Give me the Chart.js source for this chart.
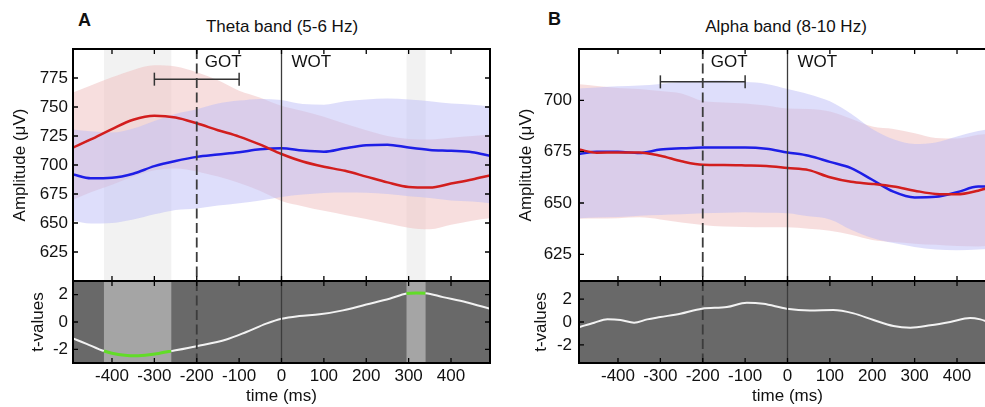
<!DOCTYPE html>
<html lang="en">
<head>
<meta charset="UTF-8">
<title>Theta and alpha band amplitude</title>
<script src="https://cdn.jsdelivr.net/npm/chart.js"></script>
<style>
  body { margin: 0; background: #fff; width: 985px; height: 407px; overflow: hidden; position: relative;
         font-family: "Liberation Sans", Arial, sans-serif; color: #111; }
  canvas { position: absolute; }
  .panel { position: absolute; font-weight: bold; font-size: 18px; }
  .band { position: absolute; font-size: 17px; text-align: center; width: 300px; }
</style>
</head>
<body>
<div class="panel" style="left:78px; top:10px">A</div>
<div class="band" style="left:132px; top:17px">Theta band (5-6 Hz)</div>
<div class="panel" style="left:548px; top:9px">B</div>
<div class="band" style="left:636px; top:17px">Alpha band (8-10 Hz)</div>

<canvas id="thetaAmp" width="500" height="311" style="left:0; top:0"></canvas>
<canvas id="thetaT" width="500" height="156" style="left:0; top:251px"></canvas>
<canvas id="alphaAmp" width="515" height="311" style="left:500px; top:0"></canvas>
<canvas id="alphaT" width="515" height="156" style="left:500px; top:251px"></canvas>

<script>
// sample times (ms) of the amplitude traces
const times = [-492, -450, -400, -350, -300, -250, -200, -150, -100, -50, 0, 50, 100, 150, 200, 250, 300, 350, 400, 450, 492];

// theta band (5-6 Hz), amplitude in uV
const thetaRedMean   = [715, 722, 731, 739, 742.5, 741, 736, 730, 724.5, 717.5, 709.5, 703, 698.5, 695, 690, 685, 681, 680.5, 684, 687.5, 691];
const thetaRedUpper  = [762.5, 768.5, 775.6, 782, 786, 785, 780, 773, 764, 758, 751, 746.5, 741.5, 735.5, 730, 725, 722.5, 722, 723.5, 725, 726.3];
const thetaRedLower  = [670, 676.5, 683, 690, 695.5, 697, 694.5, 690, 684.5, 677.5, 669, 664.5, 660.5, 657, 653.5, 649.5, 646, 644.6, 648.5, 652, 654];
const thetaBlueMean  = [691.8, 688.5, 689, 692.5, 699, 703.5, 707, 709, 711, 713.5, 714.5, 712.5, 711.5, 714.5, 717, 717.5, 715, 713, 712.2, 711, 708];
const thetaBlueUpper = [730.7, 729, 728, 731.5, 738, 744, 748, 753, 755.5, 757, 756, 752.5, 752, 755, 756.5, 757.3, 756.5, 755, 753, 752, 750.4];
const thetaBlueLower = [652, 649.6, 650, 653, 657.5, 661.3, 662.6, 665, 667, 669.5, 672.5, 674.5, 675.8, 676.2, 676, 675, 673, 671.5, 669.5, 668.5, 667];

// alpha band (8-10 Hz)
const alphaRedMean   = [676, 674.5, 674.6, 674.6, 673, 670.3, 668.6, 668.5, 668.3, 668, 667, 666, 662.5, 660.3, 659.3, 658, 656, 654.4, 654.2, 656, 658.5];
const alphaRedUpper  = [707.8, 707, 706, 705.5, 704.5, 703.3, 699.7, 699, 698.5, 697.5, 696, 695.8, 694.5, 691, 687.2, 686, 684, 681.7, 681.4, 683.2, 684];
const alphaRedLower  = [642.3, 642.4, 642.6, 643, 642, 640.5, 639.3, 638.5, 638.3, 638.2, 638.2, 637.5, 636.5, 634.5, 632, 631, 630.2, 629.6, 629, 628.8, 629.5];
const alphaBlueMean  = [673.8, 675, 675, 674.3, 676, 676.6, 677, 677, 677, 676.4, 674.6, 673, 670, 667, 661.3, 655.5, 652.7, 653, 655.2, 658, 658];
const alphaBlueUpper = [705.7, 706.2, 706.8, 707.2, 708, 709, 709.5, 709.7, 709, 708, 705.5, 703, 699.5, 693.5, 686, 681, 678.7, 679.5, 682.4, 685, 686.5];
const alphaBlueLower = [642.6, 642.9, 643.2, 643.8, 644.2, 644.5, 645, 645.3, 645.5, 645.3, 645, 643.5, 642, 637, 633, 630.5, 628.6, 627.3, 627, 627.3, 628];

// t-values
const tTimesTheta  = [-492, -460, -430, -419, -400, -370, -343, -312, -290, -260, -200, -130, -83, -36, 0, 42, 90, 145, 200, 255, 295, 318, 340, 381, 436, 492];
const tValuesTheta = [-1.2, -1.6, -2.0, -2.12, -2.28, -2.43, -2.47, -2.4, -2.3, -2.13, -1.77, -1.28, -0.73, -0.12, 0.24, 0.44, 0.56, 0.85, 1.28, 1.7, 2.08, 2.13, 2.11, 1.82, 1.45, 0.97];
const tTimesAlpha  = [-492, -456, -425, -394, -362, -331, -300, -253, -202, -143, -96, -57, -2, 53, 108, 156, 203, 250, 290, 337, 384, 431, 455, 467, 492];
const tValuesAlpha = [-0.45, -0.06, 0.23, 0.17, -0.06, 0.23, 0.43, 0.72, 1.16, 1.3, 1.68, 1.59, 1.16, 1.01, 1.04, 0.75, 0.17, -0.35, -0.49, -0.29, 0, 0.35, 0.23, 0.09, -0.3];

// significant windows (ms), theta only
const thetaWindows = [[-419, -260], [295, 340]];

// events and GOT range bar
const eventTimes = [-200, 0];
const eventLabels = ['GOT', 'WOT'];
const gotRange = [-300, -100];
const gotLevelTheta = 774;
const gotLevelAlpha = 709;

// tick labels
const timeTicks = [-400, -300, -200, -100, 0, 100, 200, 300, 400];
const thetaAmpTicks = [625, 650, 675, 700, 725, 750, 775];
const alphaAmpTicks = [625, 650, 675, 700];
const tTicks = [-2, 0, 2];

const RED = '#d21e1e', BLUE = '#1e1ee6';
const RED_BAND = 'rgba(239,189,189,0.5)', BLUE_BAND = 'rgba(190,190,248,0.5)';
const FONT = '"Liberation Sans", Arial, sans-serif';

Chart.defaults.font.family = FONT;
Chart.defaults.font.size = 17;
Chart.defaults.color = '#111';

function pts(xs, ys) { return xs.map((x, i) => ({x: x, y: ys[i]})); }

// background, windows, event lines, frame and inward ticks
const decor = {
  id: 'decor',
  beforeDatasetsDraw(chart, args, o) {
    const {ctx, chartArea: a} = chart;
    const x = chart.scales.x;
    ctx.save();
    if (o.background) {
      ctx.fillStyle = o.background;
      ctx.fillRect(a.left, a.top, a.width, a.height);
    }
    ctx.fillStyle = o.windowColor;
    (o.windows || []).forEach(w => {
      const x0 = x.getPixelForValue(w[0]), x1 = x.getPixelForValue(w[1]);
      ctx.fillRect(x0, a.top, x1 - x0, a.height);
    });
    ctx.restore();
  },
  afterDatasetsDraw(chart, args, o) {
    const {ctx, chartArea: a} = chart;
    const x = chart.scales.x, y = chart.scales.y;
    ctx.save();
    ctx.beginPath();
    ctx.rect(a.left, a.top, a.width, a.height);
    ctx.clip();
    eventTimes.forEach((t, i) => {
      const px = x.getPixelForValue(t);
      ctx.strokeStyle = '#3c3c3c';
      ctx.lineWidth = i === 0 ? 1.8 : 1.3;
      ctx.setLineDash(i === 0 ? [10, 4.5] : []);
      ctx.beginPath();
      ctx.moveTo(px, a.top);
      ctx.lineTo(px, a.bottom);
      ctx.stroke();
      if (o.labels) {
        ctx.fillStyle = '#111';
        ctx.font = '17px ' + FONT;
        ctx.textBaseline = 'alphabetic';
        ctx.fillText(eventLabels[i], px + (i === 0 ? 8 : 10), a.top + 18);
      }
    });
    ctx.restore();

    ctx.save();
    ctx.strokeStyle = '#000';
    ctx.lineWidth = 1.3;
    ctx.beginPath();
    timeTicks.forEach(t => {
      const px = x.getPixelForValue(t);
      ctx.moveTo(px, a.top); ctx.lineTo(px, a.top + 5);
      ctx.moveTo(px, a.bottom); ctx.lineTo(px, a.bottom - 5);
    });
    o.yTicks.forEach(v => {
      const py = y.getPixelForValue(v);
      ctx.moveTo(a.left, py); ctx.lineTo(a.left + 5, py);
      ctx.moveTo(a.right, py); ctx.lineTo(a.right - 5, py);
    });
    ctx.stroke();
    ctx.lineWidth = 2;
    ctx.strokeRect(a.left, a.top, a.width, a.height);
    ctx.restore();
  }
};

function xAxis(show) {
  return {
    type: 'linear', min: -492, max: 492,
    grid: {display: false, drawTicks: false},
    border: {display: false},
    afterBuildTicks: s => { s.ticks = timeTicks.map(v => ({value: v})); },
    afterFit: s => { s.height = show ? 44 : 0; },
    ticks: {display: show, padding: 3, autoSkip: false, maxRotation: 0},
    title: {display: show, text: 'time (ms)', padding: 0}
  };
}

function yAxis(min, max, ticks, title, width, titlePad, labelPad) {
  return {
    type: 'linear', min: min, max: max,
    grid: {display: false, drawTicks: false},
    border: {display: false},
    afterBuildTicks: s => { s.ticks = ticks.map(v => ({value: v})); },
    afterFit: s => { s.width = width; },
    ticks: {padding: labelPad},
    title: {display: true, text: title, padding: {top: titlePad, bottom: 0}}
  };
}

function baseOptions(padding, decorOpts, scales) {
  return {
    responsive: false, animation: false, events: [],
    layout: {padding: padding},
    elements: {point: {radius: 0}, line: {cubicInterpolationMode: 'monotone'}},
    plugins: {legend: {display: false}, tooltip: {enabled: false}, decor: decorOpts},
    scales: scales
  };
}

function ampChart(id, s, yMin, yMax, ticks, gotLevel, width, rightPad, titlePad, labelPad, windows) {
  const band = {borderWidth: 0, borderColor: 'transparent', pointRadius: 0};
  new Chart(document.getElementById(id), {
    type: 'line',
    data: {datasets: [
      {data: pts(times, s.redMean), borderColor: RED, borderWidth: 2.5},
      {data: pts(times, s.blueMean), borderColor: BLUE, borderWidth: 2.5},
      {data: gotRange.map(t => ({x: t, y: gotLevel})), borderColor: '#333', borderWidth: 1.5,
       pointStyle: 'line', pointRotation: 90, pointRadius: 6.5, pointBorderWidth: 1.5, pointBorderColor: '#333'},
      Object.assign({data: pts(times, s.blueUpper), fill: '+1', backgroundColor: BLUE_BAND}, band),
      Object.assign({data: pts(times, s.blueLower), fill: false}, band),
      Object.assign({data: pts(times, s.redUpper), fill: '+1', backgroundColor: RED_BAND}, band),
      Object.assign({data: pts(times, s.redLower), fill: false}, band)
    ]},
    options: baseOptions({top: 49, bottom: 30, left: 0, right: rightPad},
      {windows: windows, windowColor: '#f2f2f2', labels: true, yTicks: ticks},
      {x: xAxis(false), y: yAxis(yMin, yMax, ticks, 'Amplitude (\u03bcV)', width, titlePad, labelPad)}),
    plugins: [decor]
  });
}

function tChart(id, xs, ys, yLim, width, rightPad, titlePad, labelPad, windows) {
  const inWin = c => windows.some(w => c.p0.parsed.x >= w[0] && c.p1.parsed.x <= w[1]);
  new Chart(document.getElementById(id), {
    type: 'line',
    data: {datasets: [{
      data: pts(xs, ys), borderColor: '#f2f2f2', borderWidth: 2,
      segment: {
        borderColor: c => inWin(c) ? '#62dc28' : '#f2f2f2',
        borderWidth: c => inWin(c) ? 3 : 2
      }
    }]},
    options: baseOptions({top: 30, bottom: 0, left: 0, right: rightPad},
      {background: '#696969', windows: windows, windowColor: '#a5a5a5', labels: false, yTicks: tTicks},
      {x: xAxis(true), y: yAxis(-yLim, yLim, tTicks, 't-values', width, titlePad, labelPad)}),
    plugins: [decor]
  });
}

ampChart('thetaAmp', {
  redMean: thetaRedMean, redUpper: thetaRedUpper, redLower: thetaRedLower,
  blueMean: thetaBlueMean, blueUpper: thetaBlueUpper, blueLower: thetaBlueLower
}, 600, 800, thetaAmpTicks, gotLevelTheta, 73, 10, 10, 5, thetaWindows);

ampChart('alphaAmp', {
  redMean: alphaRedMean, redUpper: alphaRedUpper, redLower: alphaRedLower,
  blueMean: alphaBlueMean, blueUpper: alphaBlueUpper, blueLower: alphaBlueLower
}, 612, 725, alphaAmpTicks, gotLevelAlpha, 79, 19, 16, 7, []);

tChart('thetaT', tTimesTheta, tValuesTheta, 3, 73, 10, 28, 5, thetaWindows);
tChart('alphaT', tTimesAlpha, tValuesAlpha, 3.57, 79, 19, 31, 7, []);
</script>
</body>
</html>
